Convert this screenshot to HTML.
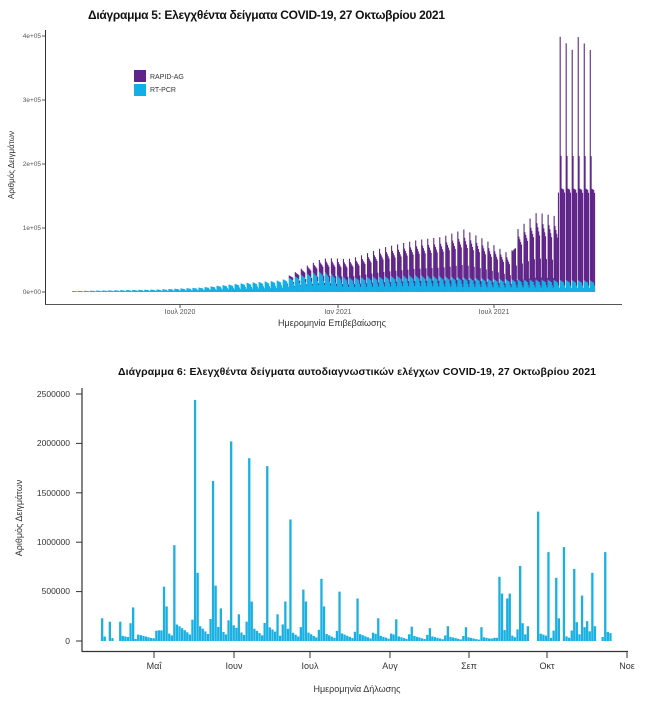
<!DOCTYPE html>
<html><head><meta charset="utf-8"><style>
html,body{margin:0;padding:0;background:#fff;width:648px;height:706px;overflow:hidden}
svg{display:block}
</style></head><body>
<svg id="s" width="648" height="706" xmlns="http://www.w3.org/2000/svg" font-family="Liberation Sans, DejaVu Sans, sans-serif">
<text x="88" y="19" font-size="12" font-weight="bold" fill="#111" textLength="357">Διάγραμμα 5: Ελεγχθέντα δείγματα COVID-19, 27 Οκτωβρίου 2021</text>
<g id="c1"></g>
<line x1="45.5" y1="30" x2="45.5" y2="305" stroke="#333" stroke-width="1"/>
<line x1="45" y1="304.5" x2="622" y2="304.5" stroke="#555" stroke-width="1"/>
<g font-size="6.5" fill="#555" text-anchor="end">
<text x="41" y="38">4e+05</text><text x="41" y="102">3e+05</text><text x="41" y="166">2e+05</text><text x="41" y="230">1e+05</text><text x="41" y="294">0e+00</text>
</g>
<g stroke="#555"><line x1="42" y1="36" x2="45" y2="36"/><line x1="42" y1="100" x2="45" y2="100"/><line x1="42" y1="164" x2="45" y2="164"/><line x1="42" y1="228" x2="45" y2="228"/><line x1="42" y1="292" x2="45" y2="292"/>
<line x1="180" y1="305" x2="180" y2="308"/><line x1="338" y1="305" x2="338" y2="308"/><line x1="494" y1="305" x2="494" y2="308"/></g>
<g font-size="7" fill="#555" text-anchor="middle"><text x="180" y="314">Ιουλ 2020</text><text x="338" y="314">Ιαν 2021</text><text x="494" y="314">Ιουλ 2021</text></g>
<text x="332" y="326" font-size="9" fill="#333" text-anchor="middle">Ημερομηνία Επιβεβαίωσης</text>
<text transform="translate(14,165) rotate(-90)" font-size="8" fill="#333" text-anchor="middle">Αριθμός Δειγμάτων</text>
<rect x="134" y="70" width="12" height="12" fill="#5f2489"/><rect x="134" y="84" width="12" height="12" fill="#12aee6"/>
<text x="150" y="79" font-size="7" fill="#333">RAPID-AG</text><text x="150" y="92" font-size="7" fill="#333">RT-PCR</text>

<text x="118" y="375" font-size="10.5" font-weight="bold" fill="#111" textLength="478">Διάγραμμα 6: Ελεγχθέντα δείγματα αυτοδιαγνωστικών ελέγχων COVID-19, 27 Οκτωβρίου 2021</text>
<g id="c2"></g>
<line x1="82" y1="388" x2="82" y2="652" stroke="#333" stroke-width="1.2"/>
<line x1="82" y1="651.5" x2="628" y2="651.5" stroke="#333" stroke-width="1.2"/>
<g font-size="8.5" fill="#333" text-anchor="end">
<text x="70" y="397">2500000</text><text x="70" y="446">2000000</text><text x="70" y="496">1500000</text><text x="70" y="545">1000000</text><text x="70" y="594">500000</text><text x="70" y="644">0</text>
</g>
<g stroke="#333"><line x1="76" y1="394" x2="82" y2="394"/><line x1="76" y1="443.4" x2="82" y2="443.4"/><line x1="76" y1="492.8" x2="82" y2="492.8"/><line x1="76" y1="542.2" x2="82" y2="542.2"/><line x1="76" y1="591.6" x2="82" y2="591.6"/><line x1="76" y1="641" x2="82" y2="641"/>
<line x1="154" y1="652" x2="154" y2="658"/><line x1="234" y1="652" x2="234" y2="658"/><line x1="310" y1="652" x2="310" y2="658"/><line x1="390" y1="652" x2="390" y2="658"/><line x1="469" y1="652" x2="469" y2="658"/><line x1="547" y1="652" x2="547" y2="658"/><line x1="627" y1="652" x2="627" y2="658"/></g>
<g font-size="9" fill="#333" text-anchor="middle"><text x="154" y="669">Μαΐ</text><text x="234" y="669">Ιουν</text><text x="310" y="669">Ιουλ</text><text x="390" y="669">Αυγ</text><text x="469" y="669">Σεπ</text><text x="547" y="669">Οκτ</text><text x="627" y="669">Νοε</text></g>
<text x="357" y="692" font-size="9" fill="#333" text-anchor="middle">Ημερομηνία Δήλωσης</text>
<text transform="translate(22,518) rotate(-90)" font-size="9" fill="#333" text-anchor="middle">Αριθμός Δειγμάτων</text>
</svg>
<script>
function interp(p,d){if(d<=p[0][0])return p[0][1];for(var i=0;i<p.length-1;i++){if(d<=p[i+1][0]){var t=(d-p[i][0])/(p[i+1][0]-p[i][0]);return p[i][1]+t*(p[i+1][1]-p[i][1]);}}return p[p.length-1][1];}
var s1='';var N=607;
var pcrP=[[0,1.5],[100,4],[150,7],[170,10],[200,14],[240,18],[270,28],[290,32],[320,22],[400,26],[500,20],[607,18]];
var pw=[1,0.95,0.9,0.85,0.8,0.55,0.35];
var raP=[[250,3],[300,24],[330,32],[360,45],[400,55],[430,62],[455,75],[480,60],[500,45],[510,38],[515,75],[540,105],[560,100],[564,100],[565,145],[607,145]];
var rw=[1,0.85,0.8,0.75,0.7,0.4,0.15];
for(var d=0;d<=N;d++){var x=72+d*0.86;var w=d%7;var p=interp(pcrP,d)*pw[w];var r=0;
 if(d>=250){r=interp(raP,d);if(d>=565){if(w==0)r=380-(d%3)*10;else if(w==1)r=195;else if(w==6)r=0;}else{r=r*rw[w];}}
 var yp=292-p*0.64;s1+='<rect x="'+x.toFixed(2)+'" y="'+yp.toFixed(1)+'" width="1.1" height="'+(p*0.64).toFixed(1)+'" fill="#12aee6"/>';
 if(r>0){var yr=yp-r*0.64;s1+='<rect x="'+x.toFixed(2)+'" y="'+yr.toFixed(1)+'" width="1.1" height="'+(r*0.64).toFixed(1)+'" fill="#5f2489"/>';}}
document.getElementById('c1').innerHTML=s1;
var pk=[[102,230],[110,195],[120,195],[129,180],[131,340],[164,550],[166,350],[174,970],[195,2440],[197,690],[212,1620],[214,560],[220,330],[231,2020],[238,270],[248,1850],[250,400],[267,1770],[277,270],[285,400],[290,1230],[302,520],[305,400],[321,630],[322,350],[338,500],[356,430],[376,230],[395,220],[410,145],[428,130],[446,150],[464,140],[481,140],[498,650],[500,480],[507,430],[508,480],[518,760],[521,180],[526,150],[536,500],[538,1310],[547,900],[554,640],[557,230],[564,950],[572,730],[575,190],[580,460],[583,140],[587,200],[590,690],[593,150],[603,900],[607,80]];
var baseP=[[101,50],[150,70],[165,170],[200,230],[240,200],[280,170],[320,110],[360,90],[400,70],[450,55],[490,40],[500,150],[530,90],[560,110],[610,90]];
var nd=Math.round((609-101)/2.58);var vals=[];
for(var i=0;i<=nd;i++){var x=101+i*2.58;var ph=(i%7)/7;var v=interp(baseP,x)*(1-ph*0.8);vals.push(v);}
var gaps=[[104,108],[113,118],[527,535],[558,562],[595,601]];
for(var i=0;i<=nd;i++){var x=101+i*2.58;for(var g=0;g<gaps.length;g++)if(x>gaps[g][0]&&x<gaps[g][1])vals[i]=0;}
for(var k=0;k<pk.length;k++){var i=Math.round((pk[k][0]-101)/2.58);if(i>=0&&i<=nd){vals[i]=Math.max(vals[i],pk[k][1]);}}
var s2='';var sc=247/2500;
for(var i=0;i<=nd;i++){var v=vals[i];if(v<=0)continue;var x=101+i*2.58;s2+='<rect x="'+x.toFixed(1)+'" y="'+(641-v*sc).toFixed(1)+'" width="2.3" height="'+(v*sc).toFixed(1)+'" fill="#1ab0e2"/>';}
document.getElementById('c2').innerHTML=s2;
</script>
</body></html>
